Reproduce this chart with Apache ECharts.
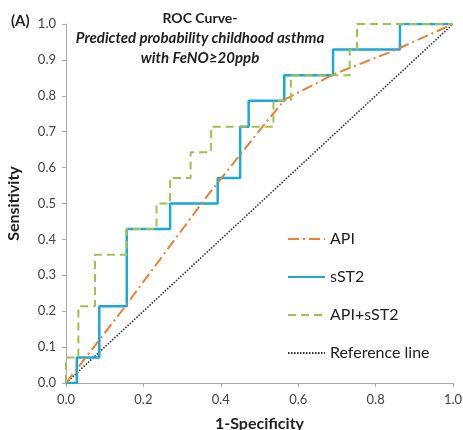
<!DOCTYPE html>
<html>
<head>
<meta charset="utf-8">
<title>ROC Curve</title>
<script src="https://cdn.jsdelivr.net/npm/echarts@6/dist/echarts.min.js"></script>
<style>
  html, body { margin: 0; padding: 0; background: #fff; }
  #chart { width: 463px; height: 430px; }
</style>
</head>
<body>
<div id="chart"></div>
<script>
  // ROC vertices (1-specificity, sensitivity)
  var sst2Fpr = [0, 0.028, 0.086, 0.157, 0.269, 0.392, 0.450, 0.472, 0.564, 0.690, 0.863, 1.0];
  var sst2Tpr = [0, 0.071, 0.214, 0.429, 0.500, 0.571, 0.714, 0.786, 0.857, 0.929, 1.0, 1.0];

  var comboFpr = [0, 0, 0.032, 0.075, 0.157, 0.234, 0.269, 0.322, 0.375, 0.536, 0.581, 0.733, 0.752, 1.0];
  var comboTpr = [0, 0.071, 0.214, 0.357, 0.429, 0.500, 0.571, 0.643, 0.714, 0.786, 0.857, 0.929, 1.0, 1.0];

  var apiFpr = [0, 0.140, 0.364, 0.519, 0.566, 0.690, 0.854, 1.0];
  var apiTpr = [0, 0.195, 0.520, 0.729, 0.790, 0.859, 0.929, 1.0];

  var refFpr = [0, 1];
  var refTpr = [0, 1];

  var seriesNames = ['API', 'sST2', 'API+sST2', 'Reference line'];
  var titleLines = ['ROC Curve-', 'Predicted probability childhood asthma', 'with FeNO≥20ppb'];

  function pairs(xs, ys) {
    return xs.map(function (x, i) { return [x, ys[i]]; });
  }

  var font = 'Lato, "Open Sans", sans-serif';
  var chart = echarts.init(document.getElementById('chart'));

  var option = {
    backgroundColor: '#fff',
    animation: false,
    textStyle: { fontFamily: font },
    grid: { left: 66, right: 10, top: 24, bottom: 47, outerBoundsMode: 'none', containLabel: false },
    xAxis: {
      type: 'value', min: 0, max: 1, interval: 0.2,
      name: '1-Specificity', nameLocation: 'middle', nameGap: 33,
      nameTextStyle: { fontSize: 16, fontWeight: 'bold', color: '#222', fontFamily: font },
      axisLine: { lineStyle: { color: '#aaa', width: 1 } },
      axisTick: { show: true, length: 4, lineStyle: { color: '#aaa' } },
      axisLabel: { fontSize: 13, color: '#444', margin: 10, formatter: function (v) { return v.toFixed(1); } },
      splitLine: { show: false }
    },
    yAxis: {
      type: 'value', min: 0, max: 1, interval: 0.1,
      name: 'Sensitivity', nameLocation: 'middle', nameGap: 44,
      nameTextStyle: { fontSize: 16, fontWeight: 'bold', color: '#222', fontFamily: font },
      axisLine: { show: true, lineStyle: { color: '#aaa', width: 1 } },
      axisTick: { show: true, length: 4, lineStyle: { color: '#aaa' } },
      axisLabel: { fontSize: 13, color: '#444', margin: 10, formatter: function (v) { return v.toFixed(1); } },
      splitLine: { show: false }
    },
    legend: {
      orient: 'vertical', left: 282, top: 226,
      itemWidth: 37, itemHeight: 10, itemGap: 22,
      data: seriesNames,
      itemStyle: { opacity: 0 },
      textStyle: { fontSize: 16, color: '#222', fontFamily: font }
    },
    graphic: [
      { type: 'text', left: 11, top: 14, style: { text: '(A)', font: 'bold 15px ' + font, fill: '#222' } },
      { type: 'text', x: 200, y: 18, style: { text: titleLines[0], font: 'bold 14px ' + font, fill: '#222', textAlign: 'center', textVerticalAlign: 'middle' } },
      { type: 'text', x: 200, y: 38, style: { text: titleLines[1], font: 'italic bold 15px ' + font, fill: '#222', textAlign: 'center', textVerticalAlign: 'middle' } },
      { type: 'text', x: 200, y: 58, style: { text: titleLines[2], font: 'italic bold 15px ' + font, fill: '#222', textAlign: 'center', textVerticalAlign: 'middle' } }
    ],
    series: [
      {
        name: 'Reference line', type: 'line', showSymbol: false, symbol: 'none',
        data: pairs(refFpr, refTpr), z: 1,
        lineStyle: { color: '#333', width: 1.6, type: [1.5, 1.5] },
        itemStyle: { color: '#333' }
      },
      {
        name: 'sST2', type: 'line', showSymbol: false, symbol: 'none', step: 'end',
        data: pairs(sst2Fpr, sst2Tpr), z: 2,
        lineStyle: { color: '#1ba8d8', width: 2.5 },
        itemStyle: { color: '#1ba8d8' }
      },
      {
        name: 'API', type: 'line', showSymbol: false, symbol: 'none',
        data: pairs(apiFpr, apiTpr), z: 3,
        lineStyle: { color: '#ef7d35', width: 2, type: [11, 4, 2, 4] },
        itemStyle: { color: '#ef7d35' }
      },
      {
        name: 'API+sST2', type: 'line', showSymbol: false, symbol: 'none', step: 'end',
        data: pairs(comboFpr, comboTpr), z: 4,
        lineStyle: { color: '#9dc24e', width: 2, type: [8, 5] },
        itemStyle: { color: '#9dc24e' }
      }
    ]
  };

  chart.setOption(option);
</script>
</body>
</html>
